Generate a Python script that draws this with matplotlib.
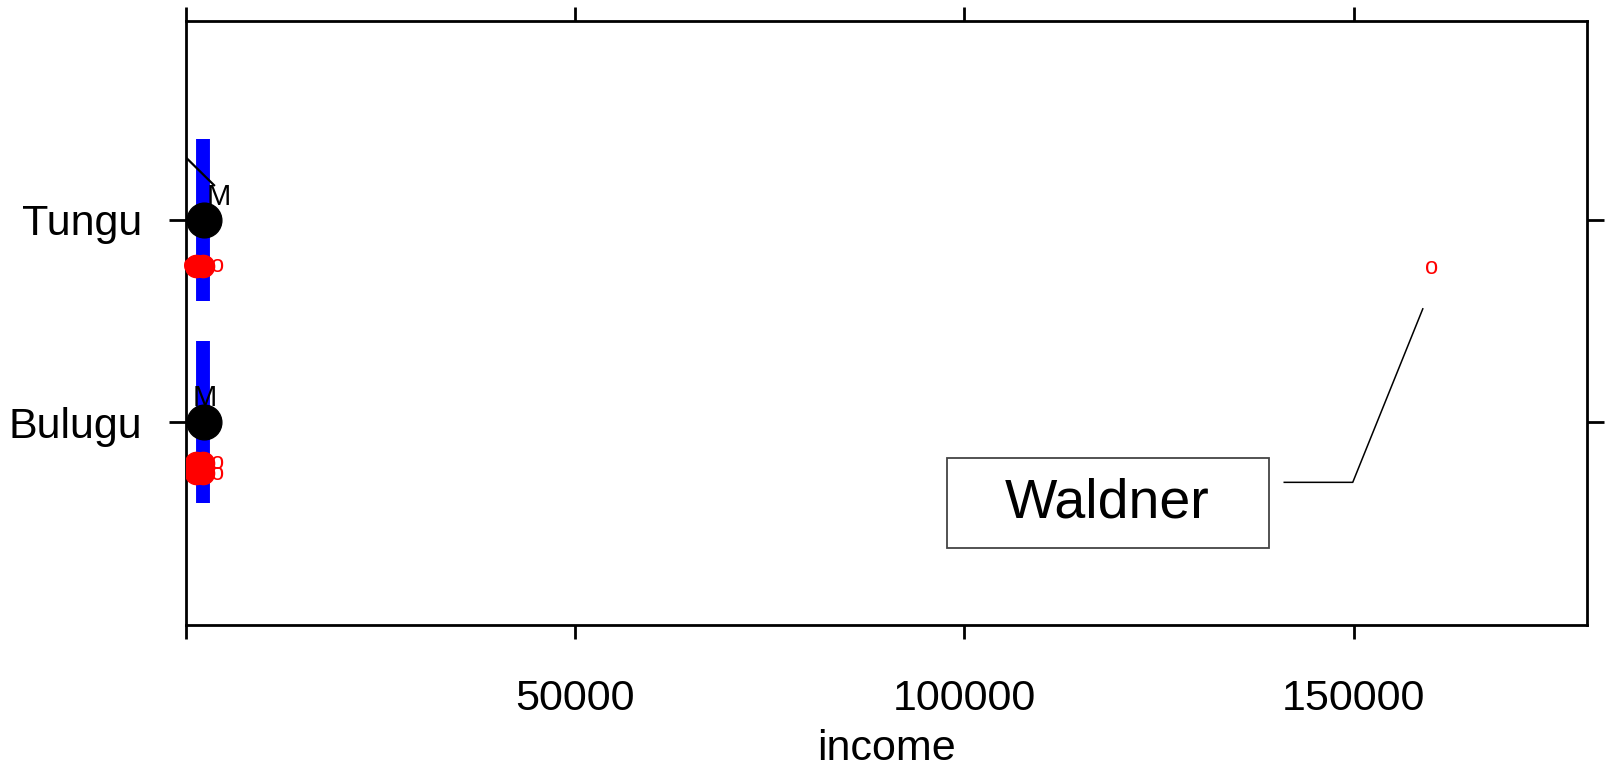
import matplotlib
matplotlib.use("Agg")
import matplotlib.pyplot as plt
from matplotlib.patches import Rectangle

plt.rcParams["font.family"] = ["Liberation Sans", "DejaVu Sans"]

# groups on the y axis (bottom to top)
groups = ["Bulugu", "Tungu"]
group_pos = [1, 2]

# spread of incomes per group (blue bar) and group mean (black dot)
bar_income = [2200, 2200]
bar_half = 0.4
mean_income = [2250, 2250]

# individual observations: filled red points
dot_income = [1300, 2200, 1300, 2200, 1300, 2200]
dot_level = [1.77, 1.77, 0.80, 0.75, 0.75, 0.80]

# individual observations drawn as "o" glyphs
o_income = [500, 4100, 160000, 4100, 4100]
o_level = [1.77, 1.77, 1.76, 0.80, 0.745]

# "M" markers next to the means
m_income = [2440, 4240]
m_level = [1.12, 2.11]

# labelled outlier
out_name = "Waldner"
out_box = (97800, 0.38, 41300, 0.445)   # x, y, width, height
out_text = (118400, 0.60)
out_leader_x = [141100, 149900, 158900]
out_leader_y = [0.704, 0.704, 1.56]

fig = plt.figure(figsize=(16.05, 7.67), dpi=100)
ax = fig.add_axes([0.1159, 0.1851, 0.8729, 0.7875])

for y, inc in zip(group_pos, bar_income):
    ax.plot([inc, inc], [y - bar_half, y + bar_half], color="blue", lw=10,
            solid_capstyle="butt", zorder=2)

ax.plot(dot_income, dot_level, "o", color="red", ms=16, mec="red", zorder=3)
for x, y in zip(o_income, o_level):
    ax.text(x, y, "o", color="red", fontsize=17, ha="center", va="center", zorder=4)

ax.plot(mean_income, group_pos, "o", color="black", ms=25, zorder=5)
for x, y in zip(m_income, m_level):
    ax.text(x, y, "M", color="black", fontsize=21, ha="center", va="center", zorder=6)

# leader line running into the Tungu "M"
ax.plot([-3000, 3600], [2.42, 2.17], color="black", lw=1.6, zorder=6)

ax.add_patch(Rectangle(out_box[:2], out_box[2], out_box[3], fill=False,
                       ec="#444444", lw=1.3, zorder=6))
ax.text(out_text[0], out_text[1], out_name, fontsize=40, ha="center",
        va="center", zorder=7)
ax.plot(out_leader_x, out_leader_y, color="black", lw=1.1, zorder=6)

ax.set_xlim(0, 180000)
ax.set_ylim(0.0, 2.98)
ax.set_xticks([0, 50000, 100000, 150000])
ax.set_xticklabels(["", "50000", "100000", "150000"])
ax.set_yticks(group_pos)
ax.set_yticklabels(groups)
ax.set_xlabel("income", fontsize=31, labelpad=7)

ax.tick_params(axis="x", which="both", direction="out", length=10, width=2,
               labelsize=31, pad=29, top=True)
ax.tick_params(axis="y", which="both", direction="out", length=12.5, width=2,
               labelsize=31, pad=19, right=True)
for sp in ax.spines.values():
    sp.set_linewidth(2)

fig.savefig("out.png", dpi=100, facecolor="white")
